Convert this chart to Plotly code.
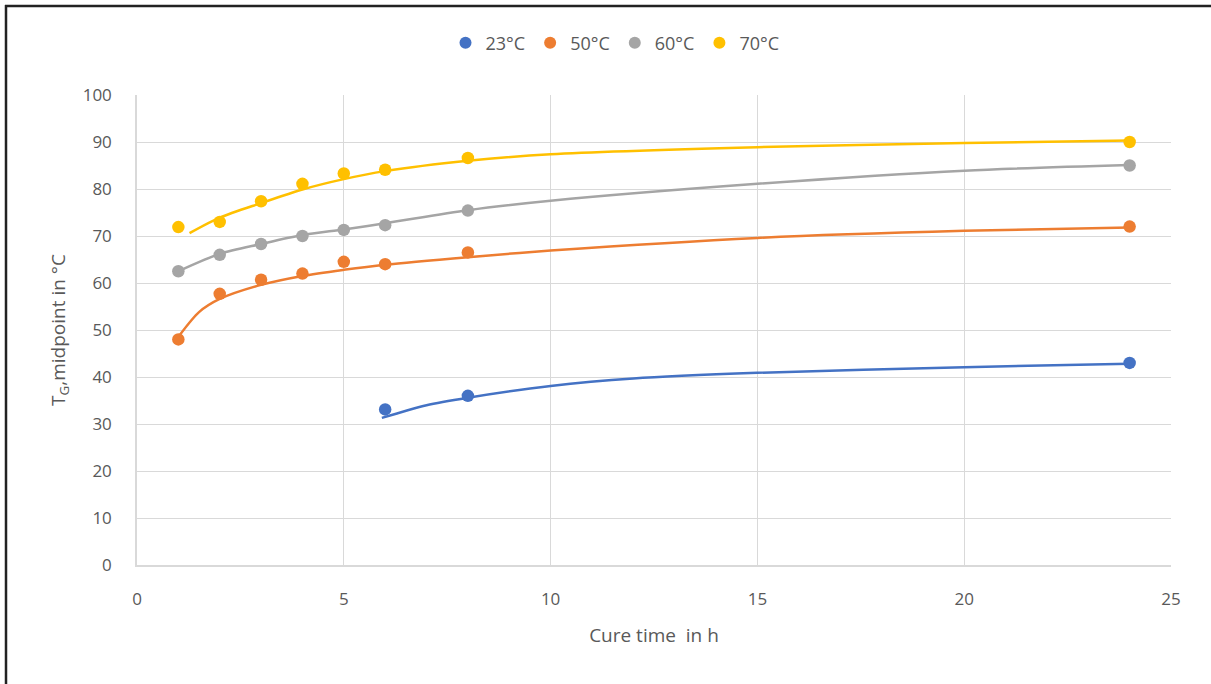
import plotly.graph_objects as go

# Measured data points
x_23 = [6, 8, 24]
y_23 = [33.1, 36.0, 43.0]
x_50 = [1, 2, 3, 4, 5, 6, 8, 24]
y_50 = [48.0, 57.7, 60.7, 62.0, 64.5, 64.0, 66.5, 72.0]
x_60 = [1, 2, 3, 4, 5, 6, 8, 24]
y_60 = [62.5, 66.0, 68.3, 70.0, 71.3, 72.3, 75.4, 85.0]
x_70 = [1, 2, 3, 4, 5, 6, 8, 24]
y_70 = [71.9, 73.0, 77.4, 81.1, 83.3, 84.1, 86.6, 90.0]

# Trendline values
tx_23 = [5.92, 7, 8, 10, 12, 15, 20, 24]
ty_23 = [31.3, 34.0, 35.6, 38.1, 39.7, 40.9, 42.1, 42.8]
tx_50 = [1.03, 1.5, 2, 3, 4, 5, 6, 8, 10, 15, 20, 24]
ty_50 = [48.9, 53.8, 56.6, 59.6, 61.5, 62.8, 63.9, 65.5, 66.9, 69.6, 71.1, 71.8]
tx_60 = [1.0, 2, 3, 4, 5, 6, 8, 10, 15, 20, 24]
ty_60 = [62.5, 66.2, 68.3, 70.2, 71.4, 72.7, 75.5, 77.5, 81.1, 83.9, 85.1]
tx_70 = [1.27, 2, 3, 4, 5, 6, 8, 10, 15, 20, 24]
ty_70 = [70.6, 73.9, 77.0, 79.9, 82.1, 83.8, 86.0, 87.4, 88.9, 89.8, 90.3]

names = ["23°C", "50°C", "60°C", "70°C"]
colors = ["#4472C4", "#ED7D31", "#A5A5A5", "#FFC000"]

fig = go.Figure()
series = [(x_23, y_23, tx_23, ty_23), (x_50, y_50, tx_50, ty_50),
          (x_60, y_60, tx_60, ty_60), (x_70, y_70, tx_70, ty_70)]
for (xs, ys, txs, tys), n, c in zip(series, names, colors):
    fig.add_trace(go.Scatter(x=txs, y=tys, mode="lines",
                             line=dict(color=c, width=2.5, shape="spline", smoothing=0.8),
                             showlegend=False, hoverinfo="skip"))
for (xs, ys, txs, tys), n, c in zip(series, names, colors):
    fig.add_trace(go.Scatter(x=xs, y=ys, mode="markers", name=n,
                             marker=dict(color=c, size=12.5)))

FAM = "Open Sans, sans-serif"
fnt = dict(family=FAM, size=17, color="#595959")
tfnt = dict(family=FAM, size=19, color="#595959")

L, R, T, B = 137, 1171, 95, 565
W, H = 1211, 684
def px(x):
    return (x - L) / (R - L)
def py(y):
    return (B - y) / (B - T)

fig.update_layout(
    width=W, height=H,
    margin=dict(l=L, r=W - R, t=T, b=H - B),
    paper_bgcolor="white", plot_bgcolor="white",
    font=fnt,
    legend=dict(orientation="h", x=px(615), xanchor="center", y=py(43), yanchor="middle",
                font=dict(family=FAM, size=18, color="#595959"), itemsizing="constant",
                traceorder="normal"),
    xaxis=dict(range=[0, 25], tickvals=[0, 5, 10, 15, 20, 25], showgrid=True,
               gridcolor="#D9D9D9", gridwidth=1, zeroline=False,
               showline=True, linecolor="#D9D9D9", linewidth=1.5,
               ticks="", ticklabelstandoff=18, tickfont=fnt,
               title=dict(text="Cure time  in h", font=tfnt, standoff=20)),
    yaxis=dict(range=[0, 100], tickvals=list(range(0, 101, 10)), showgrid=True,
               gridcolor="#D9D9D9", gridwidth=1, zeroline=False,
               showline=True, linecolor="#D9D9D9", linewidth=1.5,
               ticks="", ticklabelstandoff=20, tickfont=fnt,
               title=dict(text="T<sub>G</sub>,midpoint in °C", font=tfnt, standoff=12)),
    shapes=[
        dict(type="line", xref="paper", yref="paper", x0=px(5), x1=px(1215), y0=py(6), y1=py(6),
             line=dict(color="#222222", width=2.5)),
        dict(type="line", xref="paper", yref="paper", x0=px(6), x1=px(6), y0=py(5), y1=py(690),
             line=dict(color="#222222", width=2.5)),
    ],
)

fig.write_html("out.html")
